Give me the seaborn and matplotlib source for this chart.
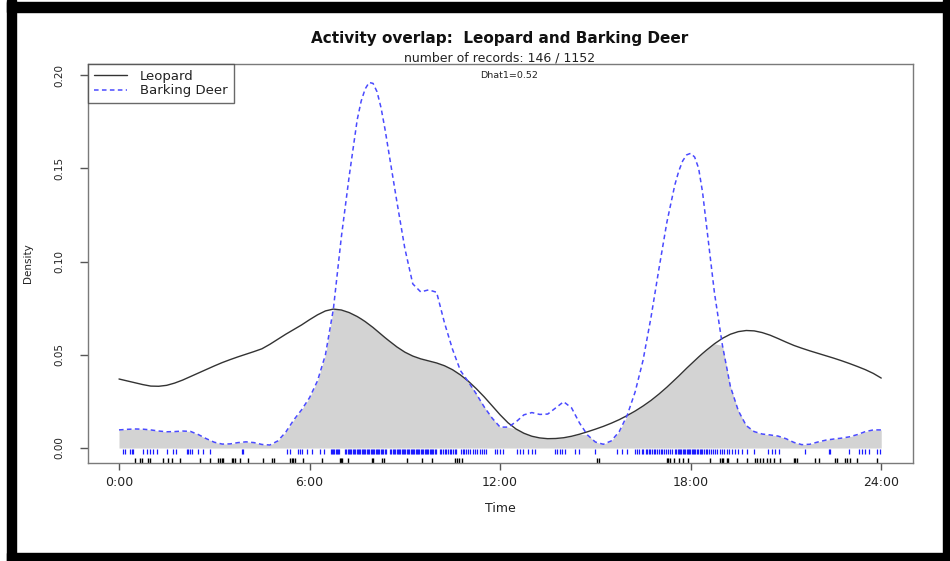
import matplotlib
matplotlib.use("Agg")
import numpy as np
import pandas as pd
import seaborn as sns
import matplotlib.pyplot as plt
from matplotlib.lines import Line2D
from matplotlib.patches import Rectangle

# ---------------- data ----------------
hours = [0.0, 0.25, 0.5, 0.75, 1.0, 1.25, 1.5, 1.75, 2.0, 2.25, 2.5, 2.75,
         3.0, 3.25, 3.5, 3.75, 4.0, 4.25, 4.5, 4.75, 5.0, 5.25, 5.5, 5.75,
         6.0, 6.25, 6.5, 6.75, 7.0, 7.25, 7.5, 7.625, 7.75, 7.875, 8.0, 8.125,
         8.25, 8.375, 8.5, 8.75,
         9.0, 9.25, 9.5, 9.75, 10.0, 10.25, 10.5, 10.75, 11.0, 11.25, 11.5, 11.75,
         12.0, 12.25, 12.5, 12.75, 13.0, 13.25, 13.5, 13.75, 14.0, 14.25, 14.5, 14.75,
         15.0, 15.25, 15.5, 15.75, 16.0, 16.25, 16.5, 16.75, 17.0, 17.25, 17.5,
         17.625, 17.75, 17.875, 18.0, 18.125, 18.25, 18.375, 18.5, 18.75,
         19.0, 19.25, 19.5, 19.75, 20.0, 20.25, 20.5, 20.75,
         21.0, 21.25, 21.5, 21.75, 22.0, 22.25, 22.5, 22.75, 23.0, 23.25, 23.5, 23.75,
         24.0]

leopard_density = [
    0.0370, 0.0360, 0.0350, 0.0340, 0.0332, 0.0331, 0.0336, 0.0348,
    0.0364, 0.0383, 0.0402, 0.0421, 0.0440, 0.0458, 0.0474, 0.0489,
    0.0503, 0.0517, 0.0532, 0.0556, 0.0583, 0.0610, 0.0635, 0.0660,
    0.0688, 0.0714, 0.0735, 0.0745, 0.0740, 0.0726, 0.0705, 0.0692,
    0.0678, 0.0662, 0.0646, 0.0628, 0.0610, 0.0592, 0.0575, 0.0542,
    0.0514, 0.0493, 0.0478, 0.0467,
    0.0456, 0.0441, 0.0420, 0.0392, 0.0358, 0.0318, 0.0274, 0.0226,
    0.0178, 0.0135, 0.0102, 0.0079, 0.0063, 0.0054, 0.0050, 0.0051,
    0.0055, 0.0063, 0.0074, 0.0087, 0.0101, 0.0116, 0.0133, 0.0152,
    0.0174, 0.0198, 0.0225, 0.0255, 0.0289, 0.0326, 0.0366,
    0.0386, 0.0407, 0.0428, 0.0448, 0.0468, 0.0488, 0.0507, 0.0525, 0.0559,
    0.0588, 0.0610, 0.0624, 0.0630,
    0.0628, 0.0619, 0.0605, 0.0587, 0.0568, 0.0550, 0.0535, 0.0521,
    0.0508, 0.0495, 0.0482, 0.0468, 0.0453, 0.0437, 0.0420, 0.0400,
    0.0375]

deer_density = [
    0.0097, 0.0100, 0.0102, 0.0101, 0.0097, 0.0091, 0.0087, 0.0088,
    0.0091, 0.0089, 0.0072, 0.0050, 0.0031, 0.0021, 0.0022, 0.0029,
    0.0033, 0.0029, 0.0019, 0.0016, 0.0038, 0.0085, 0.0150, 0.0205,
    0.0270, 0.0360, 0.0500, 0.0745, 0.1130, 0.1460, 0.1760, 0.1860,
    0.1925, 0.1960, 0.1955, 0.1910, 0.1825, 0.1710, 0.1580, 0.1320,
    0.1070, 0.0880, 0.0837, 0.0848,
    0.0835, 0.0670, 0.0530, 0.0415, 0.0355, 0.0290, 0.0220, 0.0160,
    0.0112, 0.0112, 0.0140, 0.0178, 0.0190, 0.0180, 0.0182, 0.0215,
    0.0248, 0.0215, 0.0134, 0.0070, 0.0032, 0.0020, 0.0038, 0.0088,
    0.0175, 0.0300, 0.0470, 0.0700, 0.0960, 0.1210, 0.1410,
    0.1485, 0.1540, 0.1572, 0.1580, 0.1560, 0.1500, 0.1370, 0.1190, 0.0830,
    0.0550, 0.0330, 0.0200, 0.0120,
    0.0088, 0.0075, 0.0070, 0.0064, 0.0050, 0.0030, 0.0018, 0.0020,
    0.0032, 0.0042, 0.0048, 0.0053, 0.0060, 0.0072, 0.0088, 0.0097,
    0.0097]

leopard_times = [0.50, 0.66, 0.71, 0.92, 0.98, 1.40, 1.55, 1.66, 1.92, 2.55, 2.87,
                 3.13, 3.18, 3.23, 3.29, 3.55, 3.60, 3.65, 3.81, 4.07, 4.54, 4.81,
                 4.88, 5.39, 5.44, 5.49, 5.54, 5.80, 6.38, 6.96, 6.98, 7.01, 7.22,
                 7.96, 8.01, 8.27, 8.33, 9.06, 9.53, 9.85, 10.58, 10.64, 10.69, 10.79,
                 15.05, 15.10, 17.25, 17.30, 17.35, 17.46, 17.62, 17.77, 17.93, 18.61,
                 18.93, 18.98, 19.03, 19.14, 19.19, 19.45, 19.77, 20.03, 20.09, 20.19,
                 20.29, 20.40, 20.50, 20.61, 20.82, 21.24, 21.29, 21.34, 21.92, 22.03,
                 22.55, 22.60, 22.87, 22.92, 23.02, 23.23, 23.86]

deer_times = [0.13, 0.19, 0.35, 0.40, 0.45, 0.77, 0.87, 0.98, 1.08, 1.19, 1.50, 1.71,
              1.80, 2.13, 2.18, 2.24, 2.29, 2.50, 2.66, 2.87, 3.86, 3.92, 5.28, 5.39,
              5.65, 5.70, 5.75, 5.91, 6.07, 6.33, 6.45,
              6.66, 6.70, 6.74, 6.78, 6.82, 6.86, 6.90, 6.94,
              7.12, 7.16, 7.20, 7.24, 7.28, 7.32, 7.36, 7.40, 7.44, 7.48, 7.52, 7.56,
              7.60, 7.64, 7.68, 7.72, 7.76, 7.80, 7.84, 7.88, 7.92, 7.96, 8.00, 8.04,
              8.08, 8.12, 8.16, 8.20, 8.24, 8.28, 8.32, 8.36, 8.40,
              8.54, 8.58, 8.62, 8.66, 8.70, 8.74, 8.78, 8.82, 8.86, 8.90, 8.94, 8.98,
              9.02, 9.06, 9.10, 9.14, 9.18, 9.22, 9.26, 9.30, 9.34, 9.38, 9.42, 9.46,
              9.50, 9.54, 9.58, 9.62, 9.66, 9.70, 9.74, 9.78, 9.82, 9.86, 9.90, 9.94,
              9.98, 10.10, 10.14, 10.20, 10.26, 10.30, 10.36, 10.42, 10.46, 10.52,
              10.58, 10.62, 10.76, 10.82, 10.86, 10.94, 11.00, 11.06, 11.14, 11.20,
              11.26, 11.38, 11.44, 11.50, 11.56, 11.84, 11.90, 12.00, 12.10, 12.53,
              12.63, 12.73, 12.89, 13.00, 13.10, 13.73, 13.79, 13.89, 13.94, 14.05,
              14.36, 14.47, 14.99, 15.68, 15.83, 15.99, 16.25, 16.30, 16.38, 16.46,
              16.50, 16.58, 16.62, 16.68, 16.72, 16.78, 16.84, 16.88, 16.94, 17.00,
              17.06, 17.10, 17.16, 17.22, 17.28, 17.34, 17.40, 17.51, 17.55, 17.59,
              17.63, 17.67, 17.71, 17.75, 17.79, 17.83, 17.87, 17.91, 17.95, 17.99,
              18.03, 18.07, 18.11, 18.15, 18.19, 18.24, 18.28, 18.32, 18.36, 18.42,
              18.48, 18.52, 18.58, 18.64, 18.70, 18.76, 18.84, 18.92, 18.98, 19.06,
              19.14, 19.22, 19.30, 19.40, 19.50, 19.62, 19.77, 19.98, 20.45, 20.56,
              20.66, 20.77, 21.61, 22.34, 22.39, 22.97, 23.29, 23.39, 23.50, 23.60,
              23.86, 23.95]

species = ["Leopard", "Barking Deer"]
x_ticks = [0, 6, 12, 18, 24]
x_tick_labels = ["0:00", "6:00", "12:00", "18:00", "24:00"]
y_ticks = [0.00, 0.05, 0.10, 0.15, 0.20]
y_tick_labels = ["0.00", "0.05", "0.10", "0.15", "0.20"]
title = "Activity overlap:  Leopard and Barking Deer"
subtitle = "number of records: 146 / 1152"
dhat_text = "Dhat1=0.52"

# ---------------- styling ----------------
sns.set_theme(style="white")
plt.rcParams["font.family"] = ["DejaVu Sans"]

W, H = 950, 561
fig = plt.figure(figsize=(W / 100, H / 100), dpi=100)
fig.patch.set_facecolor("white")

ax = fig.add_axes([88 / W, 1 - 463 / H, (913 - 88) / W, (463 - 64) / H])
ax.set_xlim(-0.976, 25.0)
ax.set_ylim(-0.00804, 0.2059)

df = pd.DataFrame({"hour": hours, "Leopard": leopard_density,
                   "Barking Deer": deer_density})
overlap = np.minimum(df["Leopard"].to_numpy(), df["Barking Deer"].to_numpy())
ax.fill_between(df["hour"], 0, overlap, color="#d3d3d3", lw=0, zorder=1)

sns.lineplot(data=df, x="hour", y="Leopard", color="#333333", lw=1.0,
             ax=ax, legend=False, zorder=3)
sns.lineplot(data=df, x="hour", y="Barking Deer", color="#4a4aff", lw=1.1,
             ax=ax, legend=False, zorder=4)
ax.lines[-1].set_dashes((3.0, 2.2))

# rugs
ax.vlines(deer_times, -0.0004, -0.0030, color="#1a1aff", lw=0.9, zorder=2)
sns.rugplot(x=leopard_times, height=0.013, color="black", lw=0.8, ax=ax,
            expand_margins=False)

# axes decoration
for s in ax.spines.values():
    s.set_color("#7a7a7a")
    s.set_linewidth(1.0)
ax.set_xticks(x_ticks)
ax.set_xticklabels(x_tick_labels, fontsize=9, color="#222222")
ax.set_yticks(y_ticks)
ax.set_yticklabels(y_tick_labels, fontsize=7.5, color="#222222", rotation=90,
                   va="center")
ax.tick_params(axis="x", direction="out", length=5, width=1, color="#555555",
               pad=4, bottom=True)
ax.tick_params(axis="y", direction="out", length=6, width=1, color="#555555",
               pad=11, left=True)
ax.set_xlabel("")
ax.set_ylabel("")
ax.grid(False)

fig.text(500 / W, 1 - 509 / H, "Time", ha="center", va="center", fontsize=9,
         color="#222222")
fig.text(28 / W, 1 - 263 / H, "Density", ha="center", va="center", fontsize=7.5,
         rotation=90, color="#222222")
fig.text(500 / W, 1 - 38 / H, title, ha="center", va="center", fontsize=11,
         fontweight="bold", color="#111111")
fig.text(500 / W, 1 - 58 / H, subtitle, ha="center", va="center", fontsize=9,
         color="#222222")
fig.text(509 / W, 1 - 76 / H, dhat_text, ha="center", va="center", fontsize=6.8,
         color="#222222")

handles = [Line2D([], [], color="#333333", lw=1.0),
           Line2D([], [], color="#4a4aff", lw=1.1, dashes=(3.0, 2.2))]
leg = ax.legend(handles, species, loc="upper left", bbox_to_anchor=(0, 1),
                borderaxespad=0, frameon=True, fancybox=False, fontsize=9.5,
                handlelength=2.5, handletextpad=1.0, borderpad=0.45,
                labelspacing=0.1)
leg.get_frame().set_edgecolor("#444444")
leg.get_frame().set_linewidth(1.0)
for t in leg.get_texts():
    t.set_color("#222222")

# black frame around the picture
frame = [(7, 0, 9, H), (7, 2, W - 7, 10), (7, H - 8, W - 7, 8), (943, 0, 7, H)]
for (x0, y0, w, h) in frame:
    fig.patches.append(Rectangle((x0 / W, 1 - (y0 + h) / H), w / W, h / H,
                                 transform=fig.transFigure, color="black",
                                 zorder=10))

fig.savefig("out.png", dpi=100, facecolor="white")
